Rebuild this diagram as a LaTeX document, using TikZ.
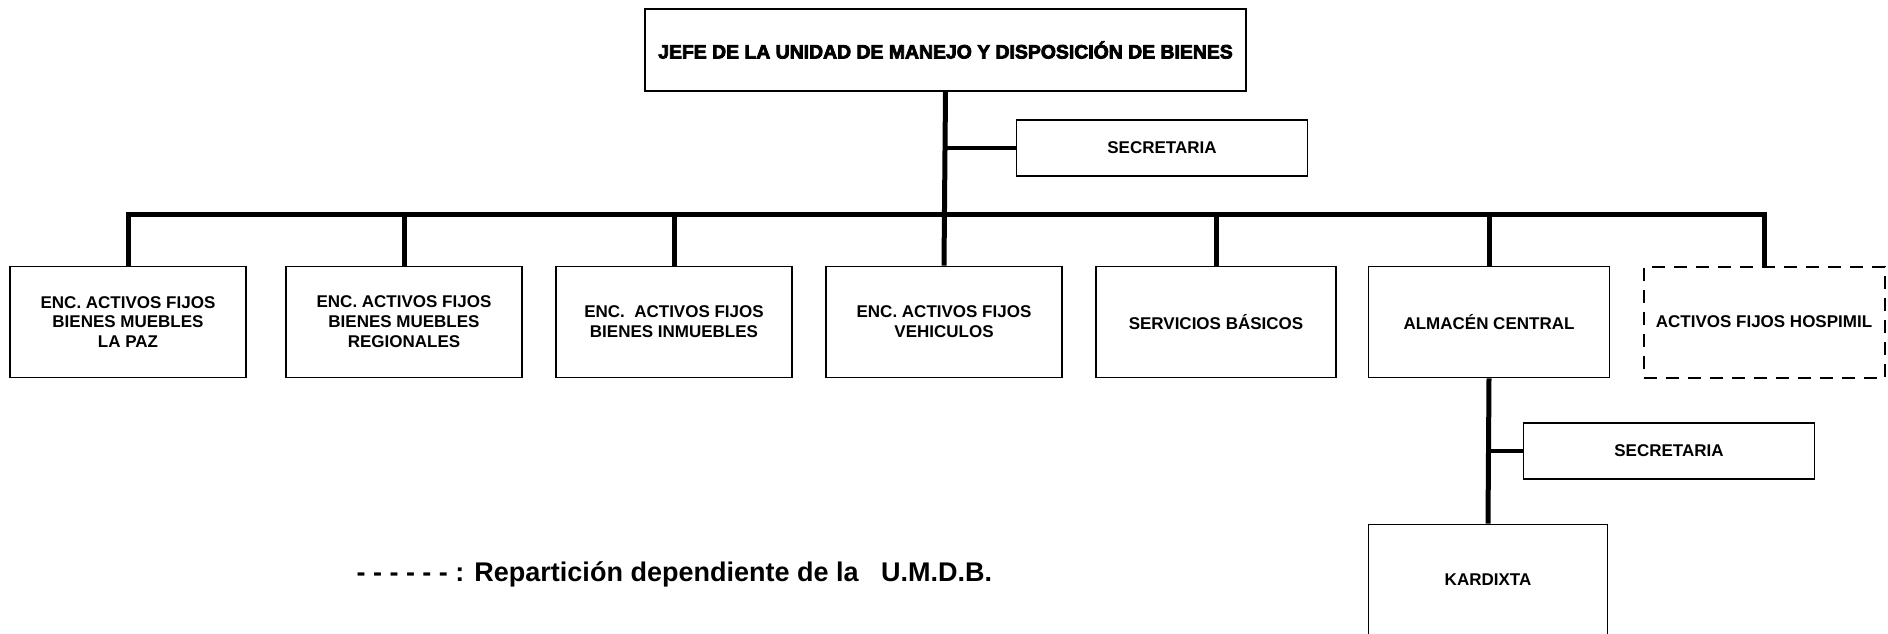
\documentclass[tikz,border=0pt]{standalone}
\usepackage{fontspec}
\setmainfont{Liberation Sans}
\newfontfamily\blackfont{Liberation Sans}[BoldFeatures={FakeBold=4}]
\usetikzlibrary{positioning}

\begin{document}
\begin{tikzpicture}[x=1pt,y=-1pt,
  box/.style={draw,line width=1.6pt,rectangle,align=center,inner sep=0pt,
    minimum width=236pt,minimum height=111pt,font=\fontsize{17}{19.9}\selectfont\bfseries},
  secbox/.style={box,minimum width=291pt,minimum height=56pt},
  dashbox/.style={box,line width=2pt,dash pattern=on 13pt off 9pt},
  link/.style={line width=5pt}]
\useasboundingbox (0,0) rectangle (1888,633);

\node[box,minimum width=601pt,minimum height=82pt,font=\blackfont\fontsize{19.4}{22}\selectfont\bfseries] (jefe) at (945.5,50) {JEFE DE LA UNIDAD DE MANEJO Y DISPOSICIÓN DE BIENES};
\node[secbox] (sec1) at (1162,148) {SECRETARIA};

% fila de encargados
\node[box] (lapaz) at (128,322) {ENC. ACTIVOS FIJOS\\BIENES MUEBLES\\LA PAZ};
\node[box] (regional) at (404,322) {ENC. ACTIVOS FIJOS\\BIENES MUEBLES\\REGIONALES};
\node[box] (inmueble) at (674,322) {ENC.~ ACTIVOS FIJOS\\BIENES INMUEBLES};
\node[box] (vehiculo) at (944,322) {ENC. ACTIVOS FIJOS\\VEHICULOS};
\node[box,minimum width=240pt] (basicos) at (1216,322) {SERVICIOS BÁSICOS};
\node[box,minimum width=241pt] (almacen) at (1489,322) {ALMACÉN CENTRAL};
\node[dashbox,minimum width=241pt] (hospimil) at (1764,322) {ACTIVOS FIJOS HOSPIMIL};

\node[secbox] (sec2) at (1669,451) {SECRETARIA};
\node[box,minimum width=239pt] (kardixta) at (1488,580) {KARDIXTA};

\node[anchor=west,font=\fontsize{27}{32}\selectfont\bfseries] (nota) at (353,574) {- - - - - - : Repartición dependiente de la\ \ \ U.M.D.B.};

\coordinate (bus) at (945,214);
\draw[link] (jefe.south) -- (vehiculo.north);
\draw[link,line width=4pt] (jefe.south |- sec1.west) -- (sec1.west);
\draw[link] (lapaz.north) |- (bus) -| (hospimil.north);
\foreach \n in {regional,inmueble,basicos,almacen}
  \draw[link] (\n.north) -- (\n.north |- bus);
\draw[link] (almacen.south) -- (kardixta.north);
\draw[link,line width=4pt] (almacen.south |- sec2.west) -- (sec2.west);%secretaria de almacen
\end{tikzpicture}
\end{document}
